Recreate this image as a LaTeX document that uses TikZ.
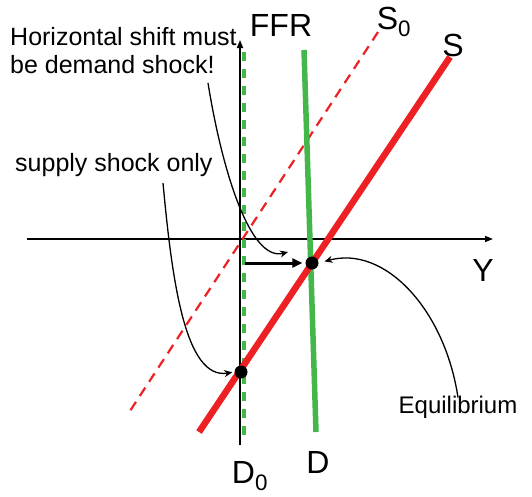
\documentclass[tikz,border=0pt]{standalone}
\usepackage{fontspec}
\setmainfont{Liberation Sans}
\usetikzlibrary{arrows.meta}

\definecolor{supplyred}{RGB}{237,32,36}
\definecolor{ffrgreen}{RGB}{67,183,73}

\begin{document}
\begin{tikzpicture}[x=1pt,y=-1pt,
                    axis/.style={line width=1.6pt, -{Triangle[length=8pt,width=6pt]}},
                    pointer/.style={line width=1.3pt, -{Stealth[length=8pt,width=7pt]}},
                    shiftarrow/.style={line width=3pt, -{Triangle[length=10pt,width=9pt]}},
                    dot/.style={circle, fill=black, inner sep=0pt, minimum size=13pt},
                    curvelabel/.style={inner sep=0pt, font=\fontsize{32}{36}\selectfont},
                    note/.style={inner sep=0pt, align=left, font=\fontsize{25}{28}\selectfont}
                ]
                \useasboundingbox (0,0) rectangle (532,496);
                % axes
                \coordinate (xL) at (27,239);
                \coordinate (xR) at (493,239);
                \coordinate (yB) at (240,445);
                \coordinate (yT) at (240,40);
                \draw[axis] (xL) -- (xR);
                \draw[axis] (yB) -- (yT);
                % curves
                \coordinate (dzeroT) at (244,52);
                \coordinate (dzeroB) at (244,435);
                \coordinate (ffrT) at (304,50);
                \coordinate (ffrB) at (316,432);
                \coordinate (szeroT) at (378,32);
                \coordinate (szeroB) at (128,414);
                \coordinate (sT) at (450,57);
                \coordinate (sB) at (199,432);
                \draw[ffrgreen, line width=3.4pt, dash pattern=on 9pt off 8pt] (dzeroT) -- (dzeroB);
                \draw[supplyred, line width=2.2pt, dash pattern=on 10pt off 7pt] (szeroT) -- (szeroB);
                \draw[ffrgreen, line width=5.5pt] (ffrT) -- (ffrB);
                \draw[supplyred, line width=6.5pt] (sT) -- (sB);
                % points
                \node[dot] (equil) at (312,263) {};
                \node[dot] (low) at (241,372) {};
                \coordinate (shiftfrom) at (245,263);
                \draw[shiftarrow, shorten >=3pt] (shiftfrom) -- (equil);
                % labels
                \node[curvelabel] (ffr) at (281,25) {FFR};
                \node[curvelabel] (szero) at (394,22) {S\textsubscript{0}};
                \node[curvelabel] (s) at (453,45) {S};
                \node[curvelabel] (y) at (483,270) {Y};
                \node[curvelabel] (d) at (318,462) {D};
                \node[curvelabel] (dzero) at (250,476) {D\textsubscript{0}};
                \node[note, anchor=north west] (hshift) at (10,27) {Horizontal shift must\\be demand shock!};
                \node[note, anchor=west] (supply) at (15,165) {supply shock only};
                \node[note, font=\fontsize{24}{28}\selectfont] (eqlab) at (458,407) {Equilibrium};
                % pointers
                \coordinate (hshiftfrom) at (208,83);
                \coordinate (hshiftto) at (288,252);
                \coordinate (supplyfrom) at (163,183);
                \draw[pointer] (hshiftfrom) .. controls (222,170) and (250,262) .. (hshiftto);
                \draw[pointer, shorten >=2pt] (supplyfrom) .. controls (172,280) and (185,380) .. (low.west);
                \draw[pointer, shorten >=6pt] ([yshift=-2pt]eqlab.north) .. controls (445,310) and (385,245) .. (equil.east);
                \end{tikzpicture}
\end{document}
